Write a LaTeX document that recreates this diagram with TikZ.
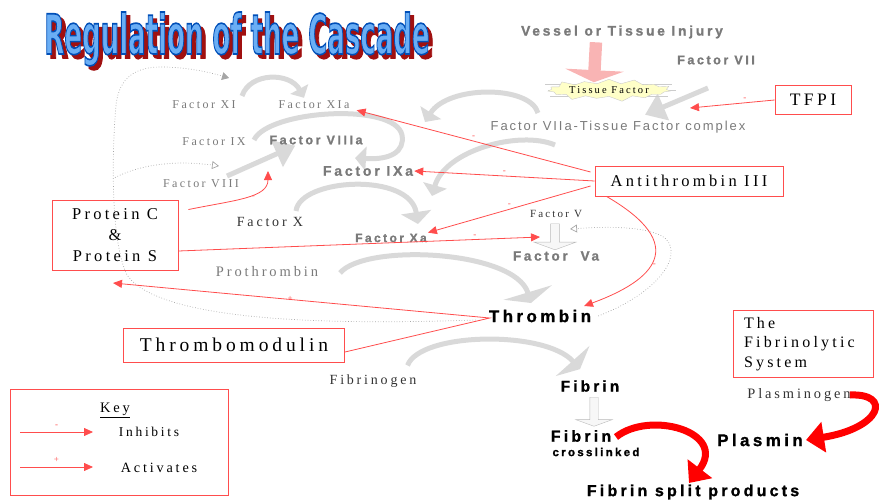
\documentclass[tikz,border=0pt]{standalone}
\usepackage{fontspec}
\setmainfont{Liberation Serif}
\setsansfont{Liberation Sans}
\newfontfamily\wserif[LetterSpace=20]{Liberation Serif}
\newfontfamily\wsans[LetterSpace=20, BoldFeatures={FakeBold=1.2}]{Liberation Sans}
\newfontfamily\lsans[LetterSpace=15]{Liberation Sans}
\newfontfamily\ttlfont[FakeBold=3]{DejaVu Sans Bold}
\usetikzlibrary{calc}
\usetikzlibrary{arrows.meta}
\usetikzlibrary{shapes.symbols}
\usetikzlibrary{shapes.arrows}
\usetikzlibrary{backgrounds}
\newcommand{\fsz}[1]{\fontsize{#1}{#1}\selectfont}
\newcommand{\ttlstroke}{\special{pdf:code 0 0.31 0.72 RG}}

\definecolor{inhred}{HTML}{FF4D4D}
\definecolor{ribgray}{HTML}{D9D9D9}
\definecolor{txtgray}{HTML}{7A7A7A}
\definecolor{ttlblue}{HTML}{6AAEF5}
\definecolor{ttlshadow}{HTML}{A01010}
\definecolor{tfyellow}{HTML}{FFFFC8}
\definecolor{injpink}{HTML}{F9B4B4}

\begin{document}
\begin{tikzpicture}[x=1pt, y=-1pt, >={Triangle[length=9pt,width=8pt]}]
    \tikzstyle{lbl}=[inner sep=1pt, text=txtgray, font=\wserif\fsz{12}]
    \tikzstyle{blbl}=[inner sep=1pt, text=txtgray, font=\wsans\bfseries\fsz{12}]
    \tikzstyle{box}=[draw=inhred, line width=0.9pt, inner sep=0pt, text=black]
    \tikzstyle{reg}=[draw=inhred, line width=0.8pt, ->]
    \tikzstyle{sign}=[text=inhred, font=\fsz{9}, inner sep=0pt]
    \tikzstyle{ribbon}=[draw=ribgray, line width=5pt, -{Triangle[length=11pt,width=24pt]}]
    \tikzstyle{fb}=[dotted, draw=gray!70, line width=0.7pt]
    \tikzstyle{bigred}=[draw=red, line width=7pt, -{Triangle[length=18pt,width=30pt]}]
    \tikzstyle{hollowarr}=[single arrow, draw=gray!55, fill=gray!6, rotate=-90, inner sep=4pt, single arrow tip angle=140]
    \tikzstyle{ttl}=[font=\ttlfont\fsz{40}, xscale=0.65, yscale=1.38, inner sep=0pt]
    \useasboundingbox (0,0) rectangle (883,503);

    % title
    \node[ttl, text=ttlshadow] (ttlsh) at (241,43) {Regulation of the Cascade};
    \node[ttl, text=ttlblue] (ttl) at (237,39) {\ttlstroke Regulation of the Cascade};

    % injury and tissue factor
    \node[blbl, font=\wsans\bfseries\fsz{13.8}] (vti) at (622,32) {Vessel or Tissue Injury};
    \node[blbl, font=\wsans\bfseries\fsz{12.6}] (fVII) at (716,60) {Factor VII};
    \node[single arrow, fill=injpink, rotate=-93, minimum height=40pt, minimum width=58pt, inner sep=6pt, single arrow head extend=23pt, single arrow tip angle=135] (injarr) at (595,61) {};
    \draw[gray!40] (545,84) -- (580,84) (548,90) -- (575,90) (550,96) -- (578,96)
        (640,84) -- (672,84) (645,90) -- (676,90) (640,96) -- (668,96);
    \node[starburst, starburst points=15, starburst point height=6pt, fill=tfyellow, draw=gray!40, minimum width=118pt, minimum height=22pt, inner sep=1pt] (tf) at (609,90) {\wserif\fsz{10.5}Tissue Factor};
    \node[inner sep=1pt, text=txtgray, font=\lsans\fsz{13}] (cplx) at (618,127) {Factor VIIa-Tissue Factor complex};

    % factors
    \node[lbl] (fXI) at (204,105) {Factor XI};
    \node[lbl] (fXIa) at (314,105) {Factor XIa};
    \node[lbl] (fIX) at (214,142) {Factor IX};
    \node[lbl] (fVIII) at (201,184) {Factor VIII};
    \node[blbl, font=\wsans\bfseries\fsz{12.6}] (fVIIIa) at (316,140) {Factor VIIIa};
    \node[blbl, font=\wsans\bfseries\fsz{14}] (fIXa) at (368,171) {Factor IXa};
    \node[lbl, text=black!80, font=\wserif\fsz{14}] (fX) at (270,222) {Factor X};
    \node[blbl, font=\wsans\bfseries\fsz{12}] (fXa) at (391,238) {Factor Xa};
    \node[lbl, text=black!80, font=\wserif\fsz{11}] (fV) at (556,214) {Factor V};
    \node[blbl, font=\wsans\bfseries\fsz{13.5}] (fVa) at (556,256) {Factor\ \ Va};
    \node[lbl, font=\wserif\fsz{14.5}] (pro) at (267,272) {Prothrombin};
    \node[blbl, text=black, font=\wsans\bfseries\fsz{17}] (thr) at (540,316) {Thrombin};
    \node[lbl, text=black!80, font=\wserif\fsz{14}] (fbg) at (373,381) {Fibrinogen};
    \node[blbl, text=black, font=\wsans\bfseries\fsz{15.5}] (fbn) at (590,386) {Fibrin};
    \node[blbl, text=black, font=\wsans\bfseries\fsz{16}] (fxl) at (581,436) {Fibrin};
    \node[blbl, text=black, font=\wsans\bfseries\fsz{11.5}] (fxlb) at (596,452) {crosslinked};
    \node[blbl, text=black, font=\wsans\bfseries\fsz{16}] (fsp) at (693,492) {Fibrin split products};
    \node[blbl, text=black, font=\wsans\bfseries\fsz{17}] (plm) at (760,440) {Plasmin};
    \node[lbl, text=black!80, font=\wserif\fsz{14.4}] (plg) at (799,395) {Plasminogen};
    \node[hollowarr, minimum height=26pt, minimum width=42pt, single arrow head extend=16pt] (vva) at (555,236) {};
    \node[hollowarr, minimum height=29pt, minimum width=36pt, single arrow head extend=14pt] (fibarr) at (594,411) {};

    % boxes
    \node[box, minimum width=126pt, minimum height=70pt, align=center, font=\wserif\fontsize{16.5}{21}\selectfont] (pcs) at (115,235) {Protein C\\\&\\Protein S};
    \node[box, minimum width=188pt, minimum height=30pt, font=\wserif\fsz{16.5}] (at) at (689,181) {Antithrombin III};
    \node[box, minimum width=76pt, minimum height=29pt, font=\wserif\fsz{17.5}] (tfpi) at (813,100) {TFPI};
    \node[box, minimum width=221pt, minimum height=34pt, font=\wserif\fsz{19.5}] (tm) at (234,345) {Thrombomodulin};
    \node[box, inner xsep=11pt, inner ysep=7pt, text width=118pt, align=left, font=\wserif\fontsize{16}{19.5}\selectfont] (fls) at (803,344) {The\\Fibrinolytic\\System};

    % key
    \node[box, minimum width=218pt, minimum height=106pt] (key) at (119,442) {};
    \node[inner sep=1pt, font=\wserif\fsz{14.5}] (keyt) at (115,410) {\underline{Key}};
    \node[inner sep=1pt, font=\wserif\fsz{13.5}] (kinh) at (149,432) {Inhibits};
    \node[inner sep=1pt, font=\wserif\fsz{14.2}] (kact) at (159,468) {Activates};
    \coordinate (ki0) at (20,432);
    \coordinate (ki1) at (93,432);
    \coordinate (ka0) at (20,467);
    \coordinate (ka1) at (93,467);
    \draw[reg] (ki0) -- node[sign, above=4pt]{-} (ki1);
    \draw[reg] (ka0) -- node[sign, above=4pt]{+} (ka1);

    % free ends
    \coordinate (tfin) at (690,108);
    \coordinate (viiiin) at (268,171);
    \coordinate (vain) at (540,237);
    \coordinate (pcsin) at (113,283);
    \coordinate (c1end) at (425,122);
    \coordinate (c2end) at (432,196);
    \coordinate (xidot) at (229,78);
    \coordinate (viiidot) at (219,166);
    \coordinate (vadot) at (570,229);

    % gray cascade arrows
    \begin{scope}[on background layer]
    \draw[ribbon, -{Triangle[length=10pt,width=20pt]}] (242,96) .. controls (250,72) and (290,72) .. ($(fXIa.north)+(-10,-2)$);
    \draw[ribbon] (254,140) .. controls (268,110) and (395,102) .. (402,135) .. controls (405,152) and (390,160) .. (355,158);
    \draw[ribbon, -{Triangle[length=20pt,width=28pt]}] (227,176) -- ($(fVIIIa.south west)+(27,0)$);
    \draw[ribbon, -{Triangle[length=12pt,width=30pt]}] (296,211) .. controls (300,178) and (410,172) .. (418,224);
    \draw[ribbon] (538,113) .. controls (530,85) and (448,85) .. (c1end);
    \draw[ribbon] (555,145) .. controls (520,130) and (445,150) .. (c2end);
    \draw[ribbon, -{Triangle[length=20pt,width=28pt]}] (708,88) -- ($(cplx.north)+(27,-5)$);
    \draw[ribbon, -{Triangle[length=11pt,width=50pt]}] (340,273) .. controls (365,243) and (515,250) .. (531,303);
    \draw[ribbon, -{Triangle[length=11pt,width=45pt]}] ($(fbg.north east)+(-10,-8)$) .. controls (420,332) and (545,330) .. ($(fbn.north)+(-10,-10)$);
    \end{scope}

    % feedback
    \draw[fb, -{Triangle[length=7pt,width=8pt]}] ($(thr.west)+(-12,4)$) .. controls (330,325) and (160,322) .. (127,275)
        .. controls (110,240) and (112,150) .. (116,105) .. controls (119,78) and (135,66) .. (165,67)
        .. controls (195,68) and (215,74) .. (xidot);
    \draw[fb, -{Triangle[open,length=7pt,width=8pt]}] ($(pcs.north)+(0,-22)$) .. controls (150,160) and (190,162) .. (viiidot);
    \draw[fb, -{Triangle[open,length=7pt,width=8pt]}] ($(thr.east)+(6,0)$) .. controls (665,290) and (685,250) .. (662,236)
        .. controls (640,225) and (600,227) .. (vadot);

    % regulation
    \path
    (tfpi.west)
      edge[reg]	node[sign, pos=0.35, above=2pt]{-}	(tfin)
    ($(at.west)+(-4,-9)$)
      edge[reg]	node[sign, pos=0.5, above=2pt]{-}	($(fXIa.south east)+(6,0)$)
    (at.west)
      edge[reg]	node[sign, pos=0.5, above=2pt]{-}	(fIXa.east)
    ($(at.west)+(-4,5)$)
      edge[reg]	node[sign, pos=0.5, above=2pt]{-}	(fXa.north east)
    ($(pcs.east)+(0,16)$)
      edge[reg]	node[sign, pos=0.82, above=2pt]{-}	(vain);
    \draw[reg] ($(at.south west)+(12,0)$) .. controls (690,245) and (655,280) .. node[sign, pos=0.55, right=2pt]{-} (584,306);
    \draw[reg] ($(pcs.north east)+(10,10)$) .. controls (235,200) and (268,198) .. node[sign, pos=0.6, below=2pt]{-} (viiiin);
    \draw[reg] ($(tm.east)+(0,7)$) -- ($(thr.west)+(2,2)$) -- node[sign, pos=0.53]{+} (pcsin);

    % fibrinolysis
    \draw[bigred] ($(plg.east)+(-2,0)$) .. controls (892,393) and (882,428) .. ($(plm.east)+(2,0)$);
    \draw[bigred] (616,437) .. controls (650,410) and (728,432) .. (689,483);
\end{tikzpicture}
\end{document}
